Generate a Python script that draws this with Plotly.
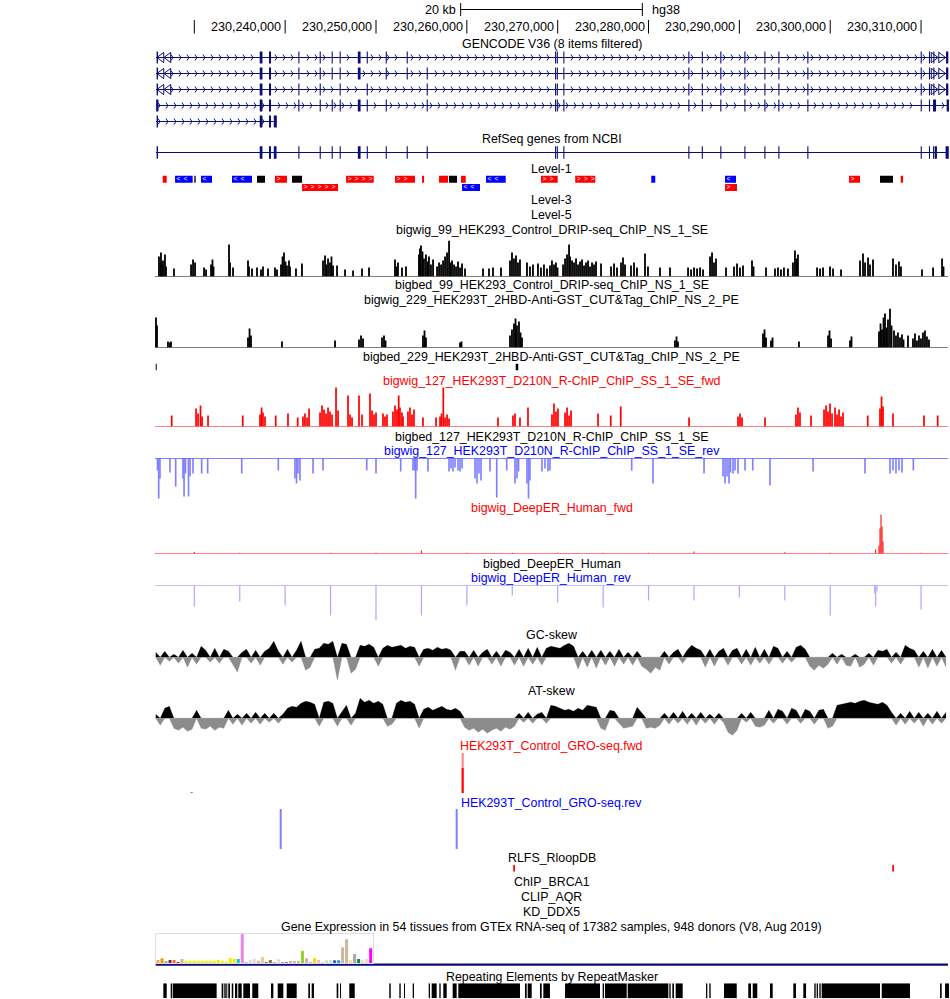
import numpy as np
import plotly.graph_objects as go

W, H = 950, 999
ORIGIN_KB = 230200            # positions below are kb from chr1:230,200,000
VIEW = (8.61, 113.186)        # visible window, kb (relative)
TRACK = (25.67, 112.97)       # data image area, kb (relative)
NAVY = "#0c0c78"
FONT = "Liberation Sans, Arial, Helvetica, sans-serif"
FS = 12.4

# ---------------- data ----------------
RULER_TICKS_BP = [230230000, 230240000, 230250000, 230260000, 230270000,
                  230280000, 230290000, 230300000, 230310000]
RULER_LABELS = ["", "230,240,000", "230,250,000", "230,260,000", "230,270,000",
                "230,280,000", "230,290,000", "230,300,000", "230,310,000"]
SCALE_BAR_KB = 20
ASSEMBLY = "hg38"

SHARED_3P_EXONS = [(69.71, .12), (69.90, .12), (70.62, .12), (84.38, .12), (85.86, .12),
                   (87.90, .12), (90.55, .12), (92.75, .12), (94.29, .12), (97.48, .12),
                   (109.96, .12), (110.87, .12)]
TX1_EXONS = [(25.85, .15), (37.20, .30), (38.22, .22), (41.45, .12), (43.80, .12), (45.12, .12),
             (46.00, .12), (48.00, .30), (48.98, .12), (51.07, .12), (53.38, .12)] + SHARED_3P_EXONS + [(111.35, .12), (112.75, .25)]
TX2_EXONS = [(25.85, .15), (37.20, .30), (38.22, .22), (41.45, .12), (43.80, .12), (45.12, .12),
             (46.00, .12), (48.00, .30), (51.07, .12), (53.38, .12), (55.58, .12)] + SHARED_3P_EXONS + [(111.35, .12), (112.75, .25)]
TX3_EXONS = [(25.85, .15), (37.20, .30), (38.22, .22), (41.45, .12), (43.80, .12), (46.00, .12),
             (48.98, .12), (55.58, .12)] + SHARED_3P_EXONS + [(111.35, .12), (112.75, .25)]
TX4_EXONS = [(25.80, .25), (37.20, .30), (38.22, .22), (41.45, .12), (43.80, .12), (45.12, .12),
             (46.00, .12), (48.00, .30), (48.98, .12), (51.07, .12), (55.58, .12)] + SHARED_3P_EXONS + [(111.32, .33), (112.82, .25)]
TX5_EXONS = [(25.85, .15), (37.20, .30), (38.22, .22), (38.75, .33)]
TX_SPANS = [(25.78, 112.97), (25.78, 112.97), (25.78, 112.97), (25.78, 112.97), (25.78, 39.10)]
TX_OFF_SCREEN_BOTH_ENDS = [1, 2, 3]

REFSEQ_EXONS = [(25.85, .15), (37.20, .30), (38.22, .22), (38.75, .30), (41.45, .12), (43.80, .12),
                (45.12, .12), (46.00, .12), (48.00, .30), (48.98, .12), (51.07, .12), (53.38, .12),
                (55.58, .12), (69.71, .12), (69.90, .12), (70.62, .12), (84.38, .12), (85.86, .12),
                (87.90, .12), (90.55, .12), (92.75, .12), (94.29, .12), (97.48, .12), (109.96, .12),
                (110.87, .12), (111.32, .12), (111.50, .25), (112.70, .35)]
REFSEQ_SPAN = (25.78, 112.97)

# (start, end, row, strand)
LEVEL1 = [(26.52, 26.96, 1, "+"), (27.88, 29.82, 1, "-"), (30.00, 30.15, 1, "."), (30.74, 31.95, 1, "-"),
          (34.15, 36.35, 1, "-"), (36.90, 37.78, 1, "."), (38.88, 40.20, 1, "+"), (40.75, 41.86, 1, "."),
          (46.70, 49.75, 1, "+"), (52.09, 54.29, 1, "+"), (55.07, 55.29, 1, "+"), (56.94, 57.93, 1, "+"),
          (58.04, 58.92, 1, "."), (59.36, 59.88, 1, "+"), (62.11, 64.28, 1, "-"), (68.16, 70.00, 1, "+"),
          (71.93, 74.14, 1, "+"), (80.30, 80.74, 1, "-"), (88.42, 89.63, 1, "-"), (102.07, 103.28, 1, "+"),
          (105.48, 106.91, 1, "."), (107.76, 108.01, 1, "+"),
          (41.86, 45.82, 2, "+"), (59.47, 61.45, 2, "-"), (88.42, 89.74, 2, "+")]

DRIP = [(26.11, 20), (26.28, 14), (26.33, 24), (26.50, 12), (26.55, 16), (26.77, 22), (26.88, 10),
        (27.76, 8), (29.64, 12), (29.86, 17), (30.08, 14), (31.07, 9), (31.29, 7),
        (31.84, 12), (32.00, 17), (32.11, 10), (33.82, 32), (33.93, 14), (34.26, 9),
        (35.91, 16), (36.02, 10), (36.35, 8), (36.90, 9), (37.34, 7), (37.56, 10), (38.11, 8),
        (38.88, 9), (39.10, 7), (39.54, 12), (39.71, 20), (39.87, 24), (40.04, 15), (40.20, 11),
        (40.42, 16), (40.53, 10), (41.19, 8), (41.85, 13),
        (44.17, 16), (44.39, 21), (44.55, 12), (44.72, 18), (44.94, 14), (45.10, 20), (45.27, 11),
        (45.71, 11), (46.59, 7), (47.47, 6), (48.46, 8), (49.23, 9),
        (52.09, 17), (52.26, 10), (52.42, 14), (52.86, 9), (53.30, 10),
        (54.73, 22), (54.84, 28), (54.95, 31), (55.12, 25), (55.28, 18), (55.50, 22), (55.67, 15),
        (55.83, 20), (56.05, 12), (56.28, 17),
        (56.72, 10), (56.94, 14), (57.16, 12), (57.38, 16), (57.60, 20), (57.82, 24), (58.04, 36), (58.20, 14),
        (58.37, 16), (58.59, 12), (58.81, 10), (59.03, 15), (59.25, 9), (59.47, 13), (59.80, 8),
        (61.78, 8), (62.44, 8), (62.88, 9), (63.76, 9),
        (64.75, 16), (64.97, 24), (65.19, 18), (65.41, 21), (65.63, 14), (65.85, 17),
        (66.62, 14), (66.95, 10), (67.28, 12), (67.83, 13), (68.16, 9), (68.49, 12), (68.82, 8), (69.15, 11),
        (69.37, 16), (69.59, 12), (69.81, 14), (69.98, 9),
        (70.59, 12), (70.81, 18), (71.03, 22), (71.25, 32), (71.36, 20),
        (71.58, 16), (71.80, 14), (72.02, 18), (72.24, 12), (72.46, 15), (72.68, 17), (72.90, 11),
        (73.12, 14), (73.34, 16), (73.56, 10), (73.78, 14), (74.00, 12), (74.22, 15), (74.77, 13),
        (75.87, 10), (76.20, 13), (76.53, 9), (76.97, 14), (77.19, 19), (77.41, 12),
        (78.07, 11), (78.40, 14), (78.73, 9), (79.61, 23), (79.94, 10), (81.26, 9), (82.36, 9),
        (84.35, 9), (84.68, 7), (85.01, 9), (85.34, 8), (85.67, 9), (86.00, 7),
        (86.77, 20), (86.99, 24), (87.21, 14), (87.43, 18), (88.53, 9),
        (89.41, 10), (89.74, 13), (90.07, 9), (90.40, 11), (91.39, 16), (91.56, 10), (92.93, 9),
        (93.92, 8), (94.25, 9), (94.58, 7), (94.91, 9), (95.35, 8),
        (95.90, 14), (96.12, 26), (96.29, 18), (96.45, 22), (98.55, 9), (98.88, 8), (99.21, 9),
        (99.98, 10), (100.31, 8), (101.19, 7),
        (103.28, 16), (103.61, 23), (103.83, 14), (104.16, 19), (104.38, 12), (104.71, 17),
        (106.91, 18), (107.24, 12), (107.57, 15), (107.79, 10),
        (110.10, 7), (111.32, 9), (112.31, 18), (112.47, 10)]

CUTTAG = [(25.78, 30), (25.89, 22), (27.10, 6), (27.32, 5), (27.43, 6),
          (35.91, 10), (36.08, 19), (36.24, 12), (39.65, 6), (45.49, 7),
          (48.13, 8), (48.35, 12), (48.57, 9), (50.66, 10), (50.88, 12), (51.05, 7),
          (55.17, 12), (55.34, 17), (55.50, 10), (59.25, 5), (59.41, 6),
          (64.75, 12), (64.97, 18), (65.19, 24), (65.36, 29), (65.52, 22), (65.74, 26), (65.91, 15), (66.07, 10),
          (82.91, 7), (83.08, 11), (83.24, 6), (92.60, 14), (92.77, 18), (92.93, 10),
          (93.48, 7), (93.65, 10), (96.56, 6), (99.76, 12), (99.92, 17), (100.09, 9),
          (102.18, 7), (102.34, 11),
          (105.37, 16), (105.54, 24), (105.70, 18), (105.87, 30), (106.03, 34), (106.20, 20),
          (106.36, 28), (106.58, 39), (106.75, 22),
          (107.02, 17), (107.24, 12), (107.46, 15), (107.68, 10), (107.90, 13), (108.07, 8), (108.56, 12),
          (109.11, 9), (109.33, 14), (109.55, 7), (109.77, 12), (109.99, 9), (110.21, 15), (110.43, 17),
          (110.65, 11), (110.87, 8)]

RCHIP_FWD = [(27.51, 11), (30.19, 18), (30.41, 13), (30.68, 21), (30.85, 10), (31.51, 11), (35.33, 11),
             (37.23, 12), (37.40, 19), (37.56, 14), (37.78, 10), (38.96, 11), (40.31, 13), (41.38, 9),
             (41.96, 10), (42.18, 13), (42.41, 9), (42.63, 18),
             (43.84, 14), (44.06, 21), (44.28, 17), (44.50, 13), (44.72, 19), (44.94, 15), (45.16, 12),
             (45.60, 39), (45.82, 16), (46.92, 31), (47.14, 12), (47.36, 9), (48.13, 31), (48.46, 12),
             (49.34, 33), (49.56, 16), (49.78, 12), (50.00, 14), (50.77, 13), (50.99, 10), (51.21, 12),
             (51.87, 15), (52.09, 21), (52.31, 17), (52.50, 31), (52.64, 19), (52.86, 14), (52.97, 10),
             (53.52, 15), (53.74, 19), (53.96, 12), (54.18, 17), (55.17, 9), (56.61, 9),
             (57.05, 10), (57.21, 13), (57.41, 39), (57.60, 9), (57.82, 12), (58.04, 8),
             (63.43, 9), (65.08, 11), (65.30, 13), (65.85, 9), (66.73, 19),
             (69.37, 12), (69.59, 23), (69.81, 15), (70.03, 18), (70.81, 14), (71.03, 19), (71.25, 11), (71.47, 16),
             (74.44, 13), (75.84, 11), (76.94, 20), (84.46, 9), (89.85, 10), (90.07, 13), (90.29, 9),
             (92.82, 9), (96.23, 12), (96.45, 19), (96.67, 14), (97.89, 11),
             (99.32, 17), (99.54, 21), (99.76, 15), (99.98, 23), (100.20, 13), (100.53, 19), (100.75, 12),
             (100.97, 17), (101.19, 10), (101.41, 14), (104.13, 11),
             (105.48, 18), (105.65, 30), (105.81, 20), (106.91, 13), (110.32, 11), (111.83, 11)]

RCHIP_REV = [(25.95, 12), (26.08, 40), (26.22, 20), (27.32, 14), (27.95, 28),
             (28.75, 20), (28.87, 38), (29.03, 15), (29.36, 38), (29.53, 18), (29.86, 15),
             (30.81, 15), (31.47, 15), (35.22, 15), (39.25, 12),
             (41.08, 20), (41.25, 25), (41.41, 15), (41.63, 22), (43.07, 15), (44.17, 12),
             (48.98, 12), (50.00, 15), (52.72, 13), (54.07, 12), (54.24, 12), (54.37, 40), (54.51, 12),
             (55.72, 13), (58.04, 13), (58.26, 10), (58.48, 13), (58.70, 9), (59.03, 12), (59.25, 13), (59.47, 10),
             (60.90, 20), (61.12, 25), (61.34, 15), (61.56, 22), (62.55, 13), (63.29, 39), (64.39, 12),
             (65.30, 25), (65.52, 20), (65.69, 13), (66.62, 25), (66.79, 40), (66.95, 22),
             (68.27, 13), (68.60, 10), (68.93, 13), (69.15, 12), (78.15, 12), (80.49, 25), (86.11, 15),
             (88.20, 18), (88.42, 25), (88.64, 18), (88.86, 25), (89.02, 14), (89.30, 15), (89.52, 12), (89.85, 15),
             (90.62, 12), (91.47, 12), (93.37, 27), (98.11, 13), (103.83, 15),
             (106.58, 15), (106.91, 12), (107.24, 15), (107.57, 12), (107.90, 14), (109.15, 12)]

DEEPER_FWD = [(30.0, 1.5), (35.0, 0.7), (45.0, 0.7), (50.0, 0.7), (55.0, 3.0), (60.0, 0.7), (65.0, 0.7),
              (70.0, 0.7), (75.0, 0.7), (80.0, 0.7), (85.0, 2.0), (95.0, 1.2), (100.0, 0.7), (104.99, 4),
              (105.37, 8), (105.48, 25), (105.59, 39), (105.70, 27), (105.81, 12), (110.0, 0.7)]
DEEPER_REV = [(30.0, 21), (35.0, 16), (40.0, 20), (45.0, 30), (50.0, 35), (55.0, 30), (60.0, 20),
              (65.0, 10), (70.0, 17), (75.0, 22), (80.0, 15), (85.0, 15), (90.0, 12), (95.0, 15),
              (100.0, 30), (104.9, 8), (105.0, 21), (105.15, 6), (110.0, 24)]

SKEW_FIRST_BIN_KB = 25.75
SKEW_BIN_KB = 0.5
GC_SKEW = [5, -8, 6, -4, 3, -6, 7, -10, 4, -7, 11, 7, -5, 9, -6, 8, 6, -7, -15, 5, 8, -6, 7, -8, 6, 9, 16,
           6, -7, 8, -5, 7, 16, -13, -10, 8, 9, 14, 13, 16, -23, 14, 13, -16, -12, 12, 11, 13, 10, -9,
           9, 12, 10, 11, 12, 9, 11, 10, -9, 8, 9, 7, 10, 8, 9, 7, -13, 6, 6, -8, 7, -9, 5, 8, -7, 6, -9,
           7, 5, -8, 8, -9, 9, -7, 10, -8, 9, 11, 10, 9, 12, 14, 11, -12, 6, -10, 7, -11, 7, -8, 6, -9,
           8, -7, 5, -8, 6, -9, -12, -16, -10, -13, 6, -7, 5, 8, -6, 7, 12, 9, 7, -10, 8, -9, 6, 9, -8, 7,
           9, -7, 8, -8, 10, -6, 8, -7, 11, 9, -6, 6, -5, 10, 12, 8, -9, -13, -8, -11, -7, 4, -7, 3, -8,
           -9, 3, -10, -7, 4, -8, 7, 6, 8, -6, 5, -7, 12, 9, 7, -10, 6, -11, 8, -9, 7, -10]
AT_SKEW = [4, -7, 10, 12, -10, -12, -9, -13, -11, 8, -10, -11, -8, -12, -9, -10, 8, -6, 4, -7, 5, -5, 6, -6,
           5, -4, 5, -5, 4, 10, 12, 11, 15, 17, 16, 14, -8, 16, 17, 15, -8, 6, 13, -7, 5, 20, 16, 18, 15, 17,
           14, -8, -6, 15, 18, 16, 17, 14, -10, 9, 11, 8, 10, 12, 9, 8, 10, 7, -9, -12, -10, -14, -11, -15,
           -12, -10, -13, -9, -11, -8, 5, -4, 6, -5, 4, 6, -5, 13, 12, 10, 8, 9, 7, 10, 8, 13, 12, 11,
           -10, -12, 8, 7, -5, -10, -9, -8, 11, 6, -10, -9, -10, -7, 5, -6, 6, -5, 7, -6, 5, -7, 6, -5, 4,
           -6, 5, -4, -14, -17, -12, 5, -4, 6, -8, -9, -7, 8, -5, 9, 7, -6, 10, 8, -5, 9, 7, -6, 8, 9,
           -10, -8, 13, 14, 15, 16, 15, 17, 18, 16, 15, 14, 16, 13, 6, -7, 5, -6, 7, -5, 6, -8, 5, -6, 7, -5, 6]

GRO_FWD_MAX = [(29.71, 0.6), (59.54, 40)]
GRO_FWD_MEAN = [(29.71, 0.6), (59.54, 25)]
GRO_REV = [(39.51, 40), (58.88, 40)]

BIGBED_229 = [(25.75, 25.86), (65.38, 65.66)]
RLFS = [(65.11, 65.30), (106.83, 107.02)]

GTEX_TISSUE_COLORS = ["#FFA54F", "#EE9A00", "#8FBC8F", "#8B1C62", "#EE6A50", "#FF0000", "#CDB79E",
                      "#EEEE00", "#EEEE00", "#EEEE00", "#EEEE00", "#EEEE00", "#EEEE00", "#EEEE00",
                      "#EEEE00", "#EEEE00", "#EEEE00", "#EEEE00", "#EEEE00", "#EEEE00", "#00CDCD",
                      "#EE82EE", "#9AC0CD", "#EED5D2", "#EED5D2", "#CDB79E", "#EEC591", "#8B7355",
                      "#8B7355", "#CDAA7D", "#EED5D2", "#B452CD", "#7A378B", "#CDB79E", "#CDB79E",
                      "#CDB79E", "#9ACD32", "#CDB79E", "#7A67EE", "#FFD700", "#FFB6C1", "#CD9B1D",
                      "#B4EEB4", "#D9D9D9", "#3A5FCD", "#1E90FF", "#CDB79E", "#CDB79E", "#FFD39B",
                      "#A6A6A6", "#008B45", "#EED5D2", "#EED5D2", "#FF00FF"]
GTEX_TPM = [3.3, 5.0, 2.3, 3.3, 3.3, 1.3, 4.3, 2.7, 2.7, 2.7, 2.7, 2.7, 2.7, 2.7, 2.7, 3.3, 2.7, 1.7,
            5.3, 4.3, 4.3, 29.3, 1.3, 3.3, 4.3, 2.7, 6.3, 1.3, 3.3, 1.3, 4.0, 1.0, 1.0, 2.3, 2.3, 2.3,
            12.3, 5.0, 0.7, 5.3, 3.3, 0.7, 3.0, 3.0, 3.0, 3.0, 16.3, 24.3, 3.0, 9.3, 4.3, 3.0, 4.3, 15.3]
GTEX_GENE_SPAN = (25.75, 112.97)

REPEATS = [(26.59, 26.96), (27.40, 27.54), (27.62, 32.46), (33.01, 33.19), (33.30, 33.46), (33.52, 33.63),
           (33.74, 33.93), (34.12, 34.29), (34.48, 34.73), (34.84, 35.22), (35.39, 36.13), (36.38, 37.04),
           (38.44, 38.70), (39.18, 39.80), (40.17, 41.27), (42.55, 42.73), (42.92, 43.17), (45.67, 45.85),
           (46.04, 46.15), (47.06, 47.66), (51.46, 51.62), (52.57, 52.72), (53.08, 53.19), (54.04, 54.18),
           (55.80, 55.94), (56.13, 56.68), (56.97, 57.12), (57.41, 57.78), (58.44, 58.88), (59.06, 65.85),
           (66.40, 66.59), (66.70, 67.14), (68.05, 68.24), (68.42, 69.15), (70.81, 74.66), (74.95, 75.10),
           (75.21, 77.60), (77.71, 82.18), (82.29, 82.44), (82.62, 82.80), (82.99, 83.76), (86.33, 86.47),
           (86.69, 86.84), (88.31, 89.71), (90.98, 91.28), (91.47, 91.97), (93.37, 93.67), (95.94, 96.23),
           (97.04, 97.34), (98.25, 98.40), (98.51, 98.65), (98.80, 98.95), (99.06, 105.48), (105.67, 108.78),
           (112.09, 112.27), (112.64, 113.08)]

TRACK_LABELS = [
    ("GENCODE V36 (8 items filtered)", 44, "black"),
    ("RefSeq genes from NCBI", 138.5, "black"),
    ("Level-1", 168.8, "black"),
    ("Level-3", 200.5, "black"),
    ("Level-5", 215.5, "black"),
    ("bigwig_99_HEK293_Control_DRIP-seq_ChIP_NS_1_SE", 230.5, "black"),
    ("bigbed_99_HEK293_Control_DRIP-seq_ChIP_NS_1_SE", 285, "black"),
    ("bigwig_229_HEK293T_2HBD-Anti-GST_CUT&Tag_ChIP_NS_2_PE", 300.5, "black"),
    ("bigbed_229_HEK293T_2HBD-Anti-GST_CUT&Tag_ChIP_NS_2_PE", 357, "black"),
    ("bigwig_127_HEK293T_D210N_R-ChIP_ChIP_SS_1_SE_fwd", 380.5, "#ff0000"),
    ("bigbed_127_HEK293T_D210N_R-ChIP_ChIP_SS_1_SE", 436.5, "black"),
    ("bigwig_127_HEK293T_D210N_R-ChIP_ChIP_SS_1_SE_rev", 451, "#0000ff"),
    ("bigwig_DeepER_Human_fwd", 507.5, "#ff0000"),
    ("bigbed_DeepER_Human", 563.5, "black"),
    ("bigwig_DeepER_Human_rev", 578, "#0000ff"),
    ("GC-skew", 635, "black"),
    ("AT-skew", 690.5, "black"),
    ("HEK293T_Control_GRO-seq.fwd", 746, "#ff0000"),
    ("HEK293T_Control_GRO-seq.rev", 802.5, "#0000ff"),
    ("RLFS_RloopDB", 858, "black"),
    ("ChIP_BRCA1", 881.5, "black"),
    ("CLIP_AQR", 896.5, "black"),
    ("KD_DDX5", 911.5, "black"),
    ("Gene Expression in 54 tissues from GTEx RNA-seq of 17382 samples, 948 donors (V8, Aug 2019)", 926.5, "black"),
    ("Repeating Elements by RepeatMasker", 976.5, "black"),
]

# ---------------- helpers ----------------
KB_PER_PX = (VIEW[1] - VIEW[0]) / W


def bp(rel):
    return (ORIGIN_KB + np.asarray(rel, dtype=float)) * 1000.0


traces = []
axes = {}
annotations = []
_n = [1]


def new_axis(top_px, bot_px, rng):
    _n[0] += 1
    n = _n[0]
    axes[f"yaxis{n}"] = dict(domain=[1 - bot_px / H, 1 - top_px / H], range=rng, visible=False,
                             fixedrange=True, anchor="x")
    return f"y{n}"


def seg_line(x0s, x1s, ys, yaxis, color, width):
    xs, yv = [], []
    for a, b, y in zip(x0s, x1s, ys):
        xs += [a, b, None]
        yv += [y, y, None]
    traces.append(go.Scatter(x=xs, y=yv, mode="lines", line=dict(color=color, width=width),
                             yaxis=yaxis, hoverinfo="skip"))


def vbars(pos, vals, width_kb, yaxis, color, base=None):
    w = np.asarray(width_kb, dtype=float) * 1000.0
    traces.append(go.Bar(x=bp(pos), y=vals, width=w if w.ndim else float(w), base=base,
                         marker=dict(color=color, line=dict(width=0)), yaxis=yaxis, hoverinfo="skip"))


def baseline(yaxis, color, y=0):
    seg_line([bp(TRACK[0])], [bp(TRACK[1])], [y], yaxis, color, 1)


def skew(values, yaxis, pos_color, neg_color):
    xs = bp(SKEW_FIRST_BIN_KB + SKEW_BIN_KB * np.arange(len(values)))
    v = np.asarray(values, dtype=float)
    for part, col in [(np.maximum(v, 0), pos_color), (np.minimum(v, 0), neg_color)]:
        traces.append(go.Scatter(x=xs, y=part, mode="lines", fill="tozeroy", fillcolor=col,
                                 line=dict(color=col, width=0.3), yaxis=yaxis, hoverinfo="skip"))


# ---------------- ruler (pixel overlay axis "y") ----------------
tx, ty = [], []
for t in RULER_TICKS_BP:
    tx += [t, t, None]
    ty += [20, 33.5, None]
traces.append(go.Scatter(x=tx, y=ty, mode="lines", line=dict(color="black", width=1), yaxis="y", hoverinfo="skip"))
for t, lab in zip(RULER_TICKS_BP, RULER_LABELS):
    if lab:
        annotations.append(dict(text=lab, x=t, y=27, xref="x", yref="y", xanchor="right", yanchor="middle",
                                xshift=-2, showarrow=False, font=dict(family=FONT, size=12.6, color="black")))
mid = (TRACK[0] + TRACK[1]) / 2
s0, s1 = bp(mid - SCALE_BAR_KB / 2), bp(mid + SCALE_BAR_KB / 2)
traces.append(go.Scatter(x=[s0, s1, None, s0, s0, None, s1, s1], y=[9.5, 9.5, None, 3, 16, None, 3, 16],
                         mode="lines", line=dict(color="black", width=1), yaxis="y", hoverinfo="skip"))
annotations.append(dict(text=f"{SCALE_BAR_KB} kb", x=s0, y=10, xref="x", yref="y", xanchor="right",
                        yanchor="middle", xshift=-3, showarrow=False, font=dict(family=FONT, size=12.6, color="black")))
annotations.append(dict(text=ASSEMBLY, x=s1, y=10, xref="x", yref="y", xanchor="left",
                        yanchor="middle", xshift=8, showarrow=False, font=dict(family=FONT, size=12.6, color="black")))

# ---------------- GENCODE ----------------
yg = new_axis(49.5, 129.5, [5.5, 0.5])
tx_exons = [TX1_EXONS, TX2_EXONS, TX3_EXONS, TX4_EXONS, TX5_EXONS]
seg_line([bp(s) for s, e in TX_SPANS], [bp(e) for s, e in TX_SPANS], list(range(1, 6)), yg, NAVY, 1)
ex_x, ex_w, ex_b = [], [], []
for r, exons in enumerate(tx_exons, start=1):
    for s, l in exons:
        ex_x.append(s + l / 2)
        ex_w.append(l)
        ex_b.append(r - 0.37)
traces.append(go.Bar(x=bp(ex_x), y=[0.74] * len(ex_x), base=ex_b, width=np.array(ex_w) * 1000,
                     marker=dict(color=NAVY, line=dict(width=0)), yaxis=yg, hoverinfo="skip"))
chx, chy = [], []
for r, ((s, e), exons) in enumerate(zip(TX_SPANS, tx_exons), start=1):
    nav = r in TX_OFF_SCREEN_BOTH_ENDS
    a = s + (17 if nav else 4) * KB_PER_PX
    b = e - (16 if nav else 3) * KB_PER_PX
    for c in np.arange(a, b, 8.0 * KB_PER_PX):
        if all(abs(c - (es + el / 2)) > 2.5 * KB_PER_PX for es, el in exons):
            chx.append(c)
            chy.append(r)
traces.append(go.Scatter(x=bp(chx), y=chy, mode="markers",
                         marker=dict(symbol="y-right", size=5, color=NAVY, line=dict(color=NAVY, width=1)),
                         yaxis=yg, hoverinfo="skip"))
nx, ny, ns = [], [], []
for r in TX_OFF_SCREEN_BOTH_ENDS:
    for off in (5.5, 12.5):
        nx.append(TX_SPANS[r - 1][0] + off * KB_PER_PX); ny.append(r); ns.append("triangle-left-open")
    for off in (-14.5, -7):
        nx.append(TX_SPANS[r - 1][1] + off * KB_PER_PX); ny.append(r); ns.append("triangle-right-open")
traces.append(go.Scatter(x=bp(nx), y=ny, mode="markers",
                         marker=dict(symbol=ns, size=9, color=NAVY, line=dict(color=NAVY, width=1)),
                         yaxis=yg, hoverinfo="skip"))

# ---------------- RefSeq ----------------
yr = new_axis(144.5, 160.5, [1.5, 0.5])
seg_line([bp(REFSEQ_SPAN[0])], [bp(REFSEQ_SPAN[1])], [1], yr, NAVY, 1)
traces.append(go.Bar(x=bp([s + l / 2 for s, l in REFSEQ_EXONS]), y=[0.78] * len(REFSEQ_EXONS),
                     base=[1 - 0.39] * len(REFSEQ_EXONS), width=[l * 1000 for s, l in REFSEQ_EXONS],
                     marker=dict(color=NAVY, line=dict(width=0)), yaxis=yr, hoverinfo="skip"))

# ---------------- Level-1 ----------------
yl = new_axis(175.1, 191.5, [2.5, 0.5])
strand_color = {"+": "#ff0000", "-": "#0000ff", ".": "#000000"}
traces.append(go.Bar(x=bp([(s + e) / 2 for s, e, r, k in LEVEL1]), y=[0.85] * len(LEVEL1),
                     base=[r - 0.425 for s, e, r, k in LEVEL1], width=[(e - s) * 1000 for s, e, r, k in LEVEL1],
                     marker=dict(color=[strand_color[k] for s, e, r, k in LEVEL1], line=dict(width=0)),
                     yaxis=yl, hoverinfo="skip"))
cx, cy, ct = [], [], []
for s, e, r, k in LEVEL1:
    if k == "." or (e - s) < 9 * KB_PER_PX:
        continue
    for c in np.arange(s + 3.5 * KB_PER_PX, e - 2.5 * KB_PER_PX, 7.0 * KB_PER_PX):
        cx.append(c); cy.append(r); ct.append(">" if k == "+" else "<")
traces.append(go.Scatter(x=bp(cx), y=cy, mode="text", text=ct, textposition="middle center",
                         textfont=dict(family=FONT, size=6.8, color="white"), yaxis=yl, hoverinfo="skip"))

# ---------------- DRIP ----------------
yd = new_axis(240.5, 276.5, [0, 36])
vbars([p for p, v in DRIP], [v for p, v in DRIP], 0.2, yd, "#000000")
baseline(yd, "black")

# ---------------- CUT&Tag ----------------
yc = new_axis(308.5, 347.5, [0, 39])
vbars([p for p, v in CUTTAG], [v for p, v in CUTTAG], 0.2, yc, "#000000")
baseline(yc, "black")

yb = new_axis(363.5, 370.5, [0, 1])
vbars([(s + e) / 2 for s, e in BIGBED_229], [1] * len(BIGBED_229), [e - s for s, e in BIGBED_229], yb, "#000000")

# ---------------- R-ChIP ----------------
yrf = new_axis(386.5, 426.5, [0, 40])
vbars([p for p, v in RCHIP_FWD], [v for p, v in RCHIP_FWD], 0.19, yrf, "#ff0000")
baseline(yrf, "#ff0000")

yrr = new_axis(458.5, 499.2, [-40.7, 0])
vbars([p for p, v in RCHIP_REV], [-v for p, v in RCHIP_REV], 0.18, yrr, "#7f7fff")
baseline(yrr, "#0000ff")

# ---------------- DeepER ----------------
ydf = new_axis(514.2, 553.5, [0, 39.3])
vbars([p for p, v in DEEPER_FWD], [v for p, v in DEEPER_FWD], 0.13, ydf, "#ff2020")
baseline(ydf, "#ff0000")

ydr = new_axis(585.5, 620.5, [-35, 0])
vbars([p for p, v in DEEPER_REV], [-v for p, v in DEEPER_REV], 0.13, ydr, "#a8a8ff")
baseline(ydr, "#8080ff")

# ---------------- skews ----------------
ygc = new_axis(634.3, 680.3, [-23, 23])
skew(GC_SKEW, ygc, "#000000", "#8c8c8c")
yat = new_axis(696.3, 740.3, [-22, 22])
skew(AT_SKEW, yat, "#000000", "#8c8c8c")

# ---------------- GRO-seq ----------------
ygf = new_axis(753, 793, [0, 40])
vbars([p for p, v in GRO_FWD_MAX], [v for p, v in GRO_FWD_MAX], 0.22, ygf, "#ff8080")
vbars([p for p, v in GRO_FWD_MEAN], [v for p, v in GRO_FWD_MEAN], 0.22, ygf, "#ff0000")
ygr = new_axis(809, 849, [-40, 0])
vbars([p for p, v in GRO_REV], [-v for p, v in GRO_REV], 0.22, ygr, "#8080ff")

# ---------------- RLFS ----------------
yrl = new_axis(865, 871.7, [0, 1])
vbars([(s + e) / 2 for s, e in RLFS], [1] * len(RLFS), [e - s for s, e in RLFS], yrl, "#ff0000")

# ---------------- GTEx ----------------
axes["yaxis99"] = dict(domain=[1 - 963.3 / H, 1 - 934 / H], range=[0, 29.6], anchor="x2", showline=True,
                       mirror=True, linecolor="#dedede", linewidth=1, showticklabels=False, ticks="",
                       showgrid=False, zeroline=False, fixedrange=True)
traces.append(go.Bar(x=list(range(1, len(GTEX_TPM) + 1)), y=GTEX_TPM, width=0.75,
                     marker=dict(color=GTEX_TISSUE_COLORS, line=dict(width=0)), xaxis="x2", yaxis="y99",
                     hoverinfo="skip"))
seg_line([bp(GTEX_GENE_SPAN[0])], [bp(GTEX_GENE_SPAN[1])], [964.6], "y", NAVY, 2.2)

# ---------------- RepeatMasker ----------------
yrm = new_axis(983.3, 998.3, [0, 1])
vbars([(s + e) / 2 for s, e in REPEATS], [1] * len(REPEATS), [e - s for s, e in REPEATS], yrm, "#000000")

# ---------------- figure ----------------
fig = go.Figure(data=traces)
annotations += [dict(text=t, x=551.5 / W, y=1 - y / H, xref="paper", yref="paper", xanchor="center",
                     yanchor="middle", showarrow=False, font=dict(family=FONT, size=FS, color=c))
                for t, y, c in TRACK_LABELS]
fig.update_layout(
    width=W, height=H, margin=dict(l=0, r=0, t=0, b=0), paper_bgcolor="white", plot_bgcolor="white",
    showlegend=False, barmode="overlay", annotations=annotations,
    xaxis=dict(range=[bp(VIEW[0]), bp(VIEW[1])], domain=[0, 1], visible=False, fixedrange=True),
    xaxis2=dict(domain=[156 / W, 372.7 / W], range=[0.5, len(GTEX_TPM) + 0.5], anchor="y99", showline=True,
                mirror=True, linecolor="#dedede", linewidth=1, showticklabels=False, ticks="",
                showgrid=False, zeroline=False, fixedrange=True),
    yaxis=dict(range=[H, 0], domain=[0, 1], visible=False, fixedrange=True),
    **axes,
)
fig.write_html("out.html", config={"displayModeBar": False, "staticPlot": True},
               post_script="document.body.style.margin='0px';document.body.style.overflow='hidden';")
